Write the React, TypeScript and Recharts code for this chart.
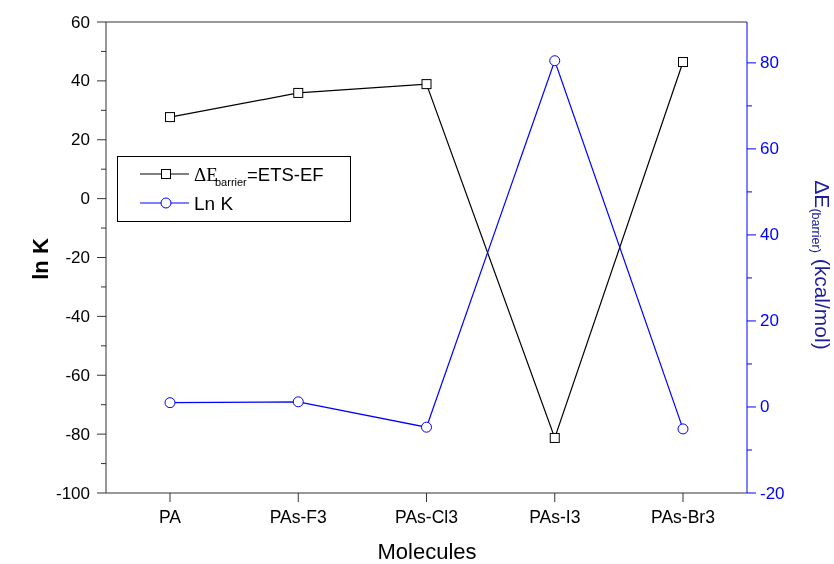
import { ComposedChart, Line, XAxis, YAxis, ReferenceLine } from "recharts"

const molecules = ["PA", "PAs-F3", "PAs-Cl3", "PAs-I3", "PAs-Br3"]
const barrierValues = [27.7, 35.9, 38.9, -81.3, 46.4]
const lnKValues = [1.0, 1.2, -4.7, 80.5, -5.1]
const leftTicks = [-100, -90, -80, -70, -60, -50, -40, -30, -20, -10, 0, 10, 20, 30, 40, 50, 60]
const rightTicks = [-20, -10, 0, 10, 20, 30, 40, 50, 60, 70, 80]

const data = molecules.map((m, i) => ({ name: m, barrier: barrierValues[i], lnK: lnKValues[i] }))

const font = "'Liberation Sans', Arial, sans-serif"
const BLUE = "#0000ff"

const LeftTick = (props: any) => {
  const { x, y, payload } = props
  const major = payload.value % 20 === 0
  return (
    <g>
      <line x1={x} x2={x - (major ? 9 : 5)} y1={y} y2={y} stroke="#333" />
      {major && (
        <text x={x - 16} y={y} textAnchor="end" dominantBaseline="central" fontSize={17} fill="#000" fontFamily={font}>
          {payload.value}
        </text>
      )}
    </g>
  )
}

const RightTick = (props: any) => {
  const { x, y, payload } = props
  const major = payload.value % 20 === 0
  return (
    <g>
      <line x1={x} x2={x + (major ? 9 : 5)} y1={y} y2={y} stroke={BLUE} />
      {major && (
        <text x={x + 13} y={y} textAnchor="start" dominantBaseline="central" fontSize={17} fill={BLUE} fontFamily={font}>
          {payload.value}
        </text>
      )}
    </g>
  )
}

const SquareDot = (props: any) => {
  const { cx, cy, index } = props
  return <rect key={index} x={cx - 4.5} y={cy - 4.5} width={9} height={9} fill="#fff" stroke="#000" />
}

const CircleDot = (props: any) => {
  const { cx, cy, index } = props
  return <circle key={index} cx={cx} cy={cy} r={5} fill="#fff" stroke={BLUE} />
}

export default function App() {
  return (
    <div style={{ position: "fixed", left: 8, top: 8, width: 826, height: 556, fontFamily: font }}>
      <ComposedChart width={826} height={556} data={data} margin={{ top: 14, right: 0, bottom: 0, left: 0 }}>
        <XAxis
          dataKey="name"
          padding={{ left: 64, right: 64 }}
          height={71}
          stroke="#333"
          tickSize={9}
          tickMargin={9}
          tick={{ fill: "#000", fontSize: 17.5, fontFamily: font }}
          label={{
            content: () => (
              <text x={419} y={551} textAnchor="middle" fontSize={22} fill="#000" fontFamily={font}>
                Molecules
              </text>
            ),
          }}
        />
        <YAxis
          yAxisId="left"
          orientation="left"
          width={98}
          domain={[-100, 60]}
          ticks={leftTicks}
          interval={0}
          tickSize={0}
          tickMargin={0}
          tickLine={false}
          stroke="#333"
          tick={<LeftTick />}
          label={{
            content: () => (
              <text
                x={32}
                y={251}
                transform="rotate(-90 32 251)"
                textAnchor="middle"
                dominantBaseline="central"
                fontSize={22}
                fontWeight="bold"
                fill="#000"
                fontFamily={font}
              >
                ln K
              </text>
            ),
          }}
        />
        <YAxis
          yAxisId="right"
          orientation="right"
          width={87}
          domain={[-20, 89.5]}
          ticks={rightTicks}
          interval={0}
          tickSize={0}
          tickMargin={0}
          tickLine={false}
          stroke={BLUE}
          tick={<RightTick />}
          label={{
            content: () => (
              <text
                x={815}
                y={257}
                transform="rotate(90 815 257)"
                textAnchor="middle"
                dominantBaseline="central"
                fill="#1c1c9c"
                fontFamily={font}
              >
                <tspan fontSize={21}>ΔE</tspan>
                <tspan fontSize={12.5} dy={7}>(barrier)</tspan>
                <tspan fontSize={21} dy={-7}> (kcal/mol)</tspan>
              </text>
            ),
          }}
        />
        <ReferenceLine yAxisId="left" y={60} stroke="#333" ifOverflow="visible" />
        <Line
          yAxisId="left"
          dataKey="barrier"
          stroke="#000"
          strokeWidth={1.2}
          dot={<SquareDot />}
          isAnimationActive={false}
        />
        <Line
          yAxisId="right"
          dataKey="lnK"
          stroke={BLUE}
          strokeWidth={1.2}
          dot={<CircleDot />}
          isAnimationActive={false}
        />
      </ComposedChart>
      <div
        style={{
          position: "absolute",
          left: 109,
          top: 148,
          width: 234,
          height: 66,
          border: "1px solid #000",
          background: "#fff",
          boxSizing: "border-box",
        }}
      >
        <svg width={232} height={64} style={{ display: "block" }}>
          <line x1={22} x2={71} y1={17} y2={17} stroke="#000" />
          <rect x={43.5} y={12.5} width={9} height={9} fill="#fff" stroke="#000" />
          <text x={76} y={23.5} fontSize={19} fontFamily="'Liberation Serif', 'Times New Roman', serif" fill="#000">
            ΔE
          </text>
          <text x={97} y={29} fontSize={11} fontFamily={font} fill="#000">
            barrier
          </text>
          <text x={129} y={23.5} fontSize={18.5} fontFamily={font} fill="#000">
            =ETS-EF
          </text>
          <line x1={22} x2={71} y1={46} y2={46} stroke={BLUE} />
          <circle cx={48} cy={46} r={5} fill="#fff" stroke={BLUE} />
          <text x={76} y={52.5} fontSize={19} fontFamily={font} fill="#000">
            Ln K
          </text>
        </svg>
      </div>
    </div>
  )
}
